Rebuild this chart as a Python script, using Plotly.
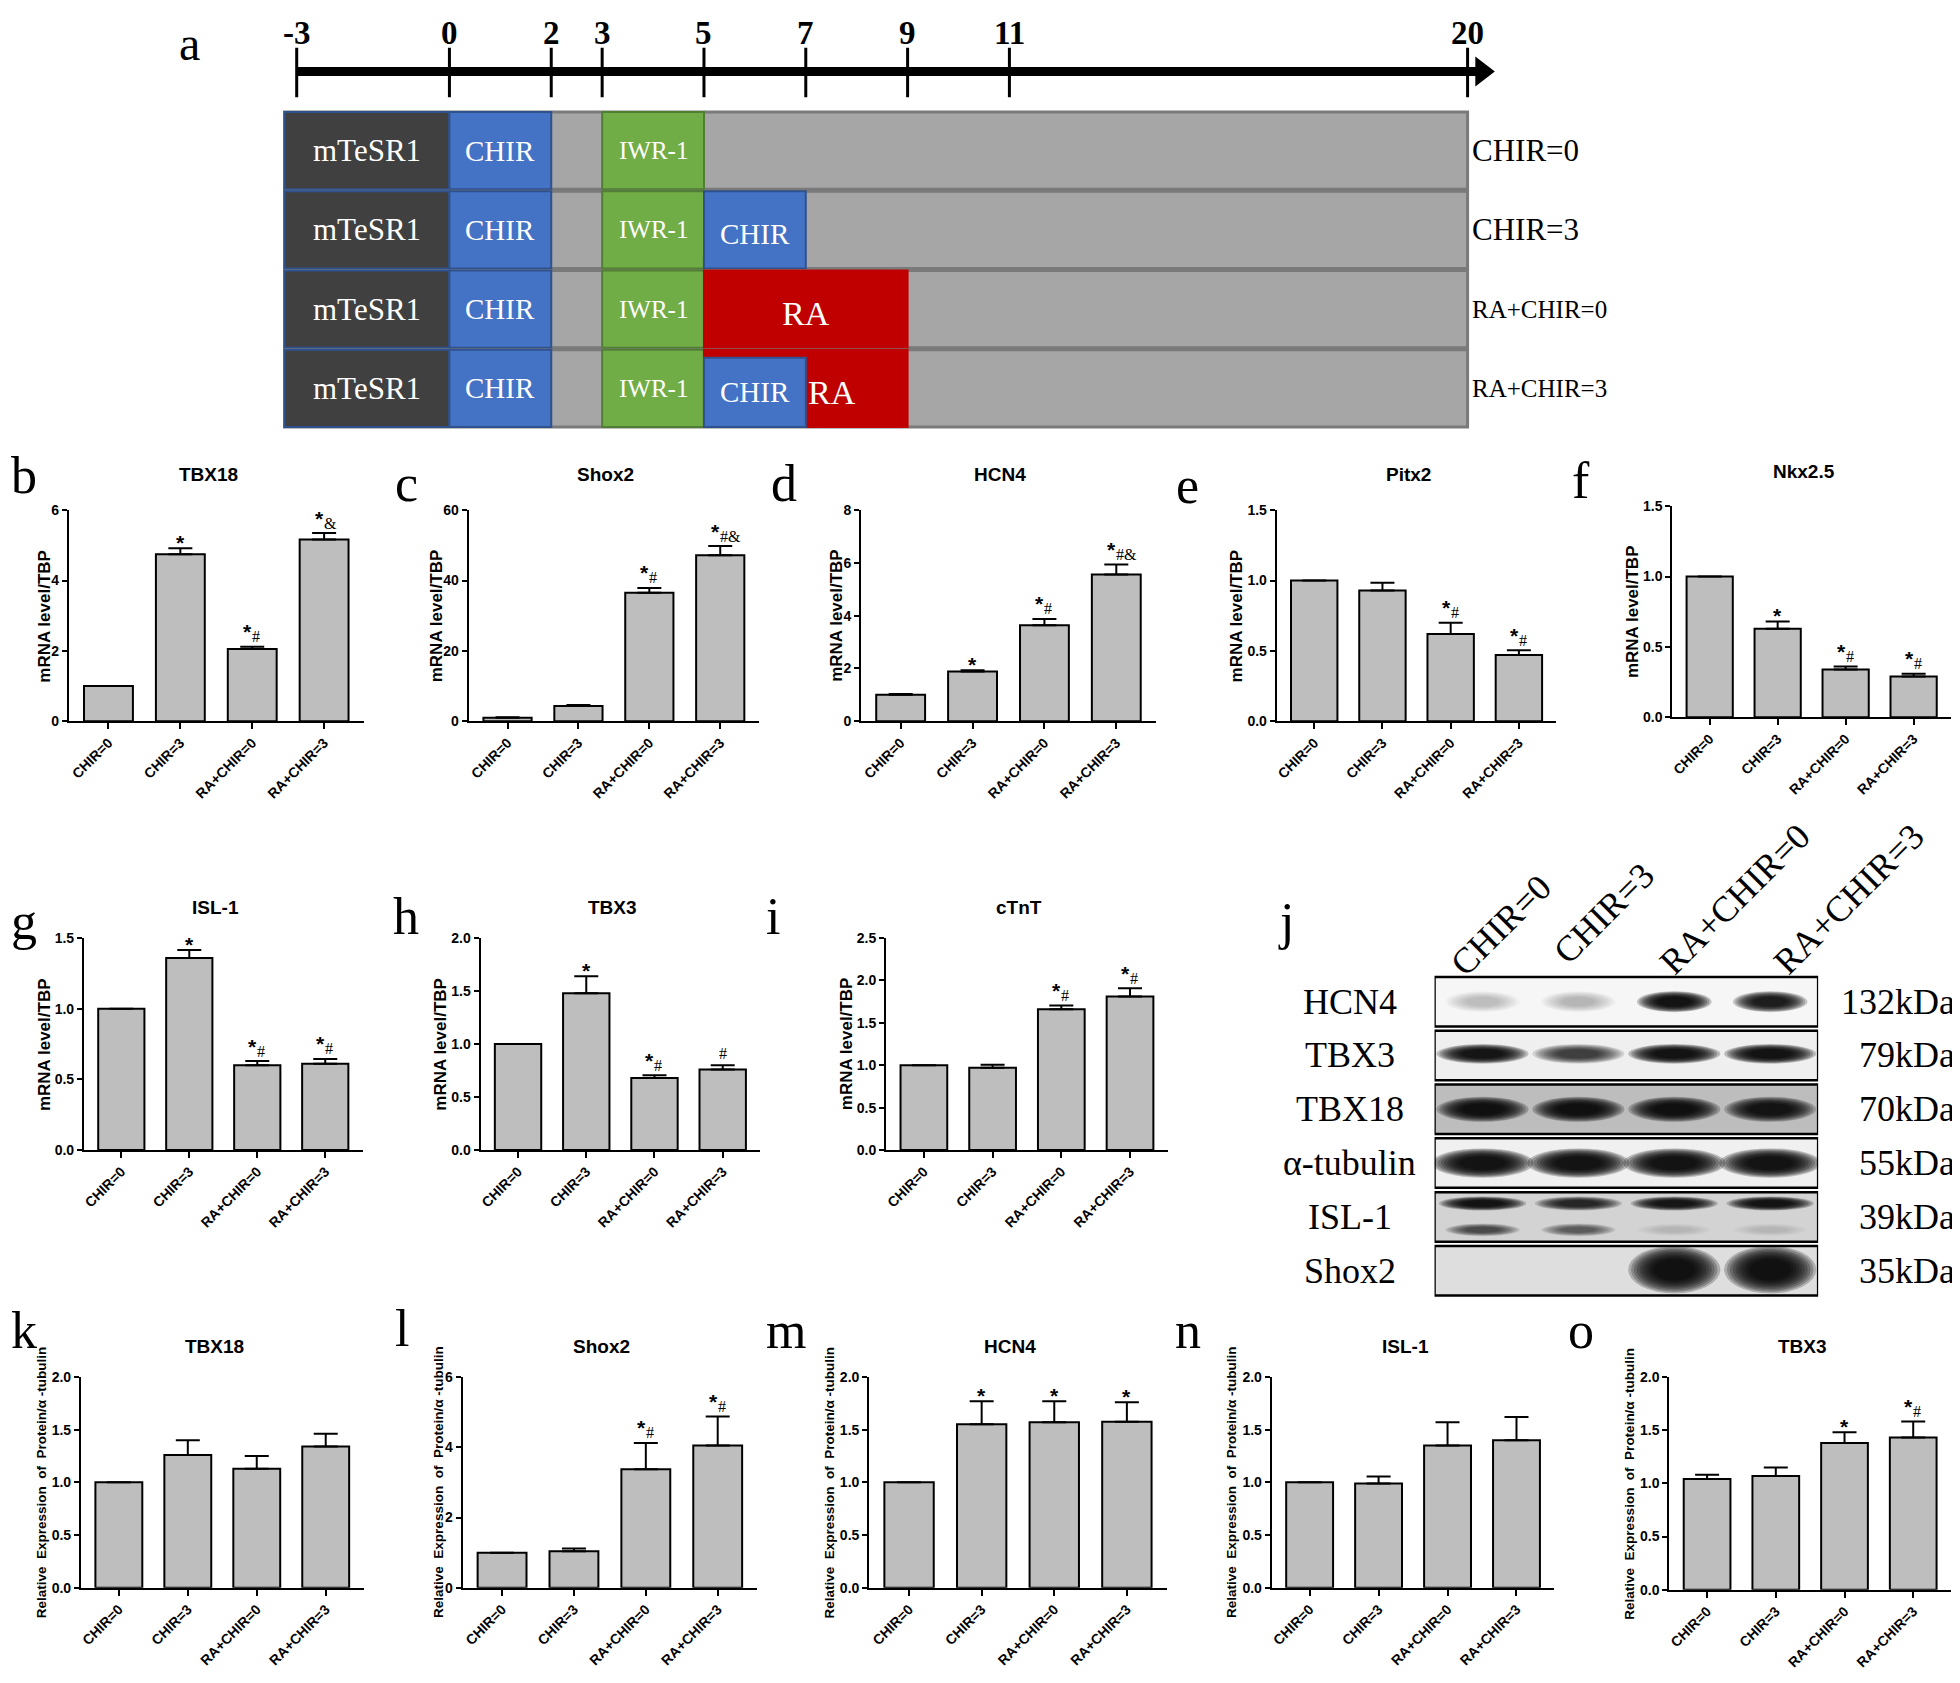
import plotly.graph_objects as go

W, H = 1960, 1683
OFF = 8  # default page margin around the plot div

groups = ["CHIR=0", "CHIR=3", "RA+CHIR=0", "RA+CHIR=3"]

# qPCR, mRNA level / TBP
tbx18_mrna = [1.0, 4.75, 2.05, 5.17]
tbx18_mrna_err = [0.0, 0.17, 0.07, 0.18]
tbx18_mrna_sig = ["", "*", "*#", "*&"]

shox2_mrna = [1.0, 4.3, 36.5, 47.2]
shox2_mrna_err = [0.1, 0.3, 1.4, 2.6]
shox2_mrna_sig = ["", "", "*#", "*#&"]

hcn4_mrna = [1.0, 1.88, 3.64, 5.56]
hcn4_mrna_err = [0.03, 0.05, 0.24, 0.38]
hcn4_mrna_sig = ["", "*", "*#", "*#&"]

pitx2_mrna = [1.0, 0.93, 0.62, 0.47]
pitx2_mrna_err = [0.0, 0.055, 0.08, 0.035]
pitx2_mrna_sig = ["", "", "*#", "*#"]

nkx25_mrna = [1.0, 0.63, 0.34, 0.29]
nkx25_mrna_err = [0.0, 0.05, 0.02, 0.02]
nkx25_mrna_sig = ["", "*", "*#", "*#"]

isl1_mrna = [1.0, 1.36, 0.60, 0.61]
isl1_mrna_err = [0.0, 0.055, 0.03, 0.035]
isl1_mrna_sig = ["", "*", "*#", "*#"]

tbx3_mrna = [1.0, 1.48, 0.68, 0.76]
tbx3_mrna_err = [0.0, 0.16, 0.025, 0.04]
tbx3_mrna_sig = ["", "*", "*#", "#"]

ctnt_mrna = [1.0, 0.97, 1.66, 1.81]
ctnt_mrna_err = [0.0, 0.035, 0.045, 0.10]
ctnt_mrna_sig = ["", "", "*#", "*#"]

# western blot quantification, protein / alpha-tubulin
tbx18_prot = [1.0, 1.26, 1.13, 1.34]
tbx18_prot_err = [0.0, 0.14, 0.12, 0.12]
tbx18_prot_sig = ["", "", "", ""]

shox2_prot = [1.0, 1.04, 3.37, 4.05]
shox2_prot_err = [0.0, 0.08, 0.75, 0.82]
shox2_prot_sig = ["", "", "*#", "*#"]

hcn4_prot = [1.0, 1.55, 1.57, 1.575]
hcn4_prot_err = [0.0, 0.22, 0.20, 0.185]
hcn4_prot_sig = ["", "*", "*", "*"]

isl1_prot = [1.0, 0.99, 1.35, 1.40]
isl1_prot_err = [0.0, 0.065, 0.22, 0.22]
isl1_prot_sig = ["", "", "", ""]

tbx3_prot = [1.04, 1.07, 1.38, 1.43]
tbx3_prot_err = [0.04, 0.08, 0.10, 0.15]
tbx3_prot_sig = ["", "", "*", "*#"]

# timeline (panel a)
timeline_days = [-3, 0, 2, 3, 5, 7, 9, 11, 20]
protocols = ["CHIR=0", "CHIR=3", "RA+CHIR=0", "RA+CHIR=3"]
common_steps = [("mTeSR1", -3.24, 0), ("CHIR", 0, 2), ("IWR-1", 3, 5)]
extra_steps = [[], [("CHIR", 5, 7)], [("RA", 5, 9)], [("RA", 5, 9), ("CHIR", 5, 7)]]

# western blot (panel j)
blot_proteins = ["HCN4", "TBX3", "TBX18", "α-tubulin", "ISL-1", "Shox2"]
blot_sizes = ["132kDa", "79kDa", "70kDa", "55kDa", "39kDa", "35kDa"]
blot_bands = [
    [0.10, 0.12, 1.00, 0.85],
    [0.95, 0.55, 1.00, 1.00],
    [0.95, 0.95, 0.95, 0.90],
    [1.00, 1.00, 1.00, 1.00],
    [0.95, 0.70, 0.90, 0.95],
    [0.03, 0.03, 1.00, 1.00],
]
isl1_lower_band = [0.45, 0.35, 0.05, 0.05]

# ---------------------------------------------------------------- styling
SANS = "Liberation Sans"
SERIF = "Liberation Serif"
BAR = "#bebebe"
MRNA_T = "mRNA level/TBP"
PROT_T = "Relative  Expression  of  Protein/α -tubulin"

# letter, title, values, errors, marks, ymax, dtick, ytitle,
# plot box (left, right, top, bottom px), letter centre px, title y px
panels = [
    ("b", "TBX18", tbx18_mrna, tbx18_mrna_err, tbx18_mrna_sig, 6, 2, MRNA_T, (67, 362, 507, 720), (22, 472), 471),
    ("c", "Shox2", shox2_mrna, shox2_mrna_err, shox2_mrna_sig, 60, 20, MRNA_T, (467, 758, 507, 720), (405, 480), 471),
    ("d", "HCN4", hcn4_mrna, hcn4_mrna_err, hcn4_mrna_sig, 8, 2, MRNA_T, (860, 1155, 507, 720), (783, 480), 471),
    ("e", "Pitx2", pitx2_mrna, pitx2_mrna_err, pitx2_mrna_sig, 1.5, 0.5, MRNA_T, (1276, 1556, 507, 720), (1187, 482), 471),
    ("f", "Nkx2.5", nkx25_mrna, nkx25_mrna_err, nkx25_mrna_sig, 1.5, 0.5, MRNA_T, (1672, 1951, 503, 716), (1581, 477), 468),
    ("g", "ISL-1", isl1_mrna, isl1_mrna_err, isl1_mrna_sig, 1.5, 0.5, MRNA_T, (82, 361, 939, 1153), (22, 922), 908),
    ("h", "TBX3", tbx3_mrna, tbx3_mrna_err, tbx3_mrna_sig, 2.0, 0.5, MRNA_T, (479, 759, 939, 1153), (404, 917), 908),
    ("i", "cTnT", ctnt_mrna, ctnt_mrna_err, ctnt_mrna_sig, 2.5, 0.5, MRNA_T, (885, 1167, 939, 1153), (772, 917), 908),
    ("k", "TBX18", tbx18_prot, tbx18_prot_err, tbx18_prot_sig, 2.0, 0.5, PROT_T, (79, 362, 1382, 1595), (22, 1335), 1351),
    ("l", "Shox2", shox2_prot, shox2_prot_err, shox2_prot_sig, 6, 2, PROT_T, (461, 756, 1382, 1595), (400, 1333), 1351),
    ("m", "HCN4", hcn4_prot, hcn4_prot_err, hcn4_prot_sig, 2.0, 0.5, PROT_T, (868, 1166, 1382, 1595), (785, 1335), 1351),
    ("n", "ISL-1", isl1_prot, isl1_prot_err, isl1_prot_sig, 2.0, 0.5, PROT_T, (1271, 1554, 1382, 1595), (1187, 1335), 1351),
    ("o", "TBX3", tbx3_prot, tbx3_prot_err, tbx3_prot_sig, 2.0, 0.5, PROT_T, (1669, 1951, 1382, 1597), (1581, 1335), 1351),
]

FW, FH = W - OFF, H - OFF


def xd(p):
    return (p - OFF) / FW


def yd(p):
    return 1 - (p - OFF) / FH


def ax_names(n):
    s = "" if n == 1 else str(n)
    return "x" + s, "y" + s, "xaxis" + s, "yaxis" + s


fig = go.Figure()
annotations = []
shapes = []
axes = {}


def ann(text, x, y, xref="paper", yref="paper", size=14, family=SANS, color="black", weight="normal", **kw):
    d = dict(text=text, x=x, y=y, xref=xref, yref=yref, showarrow=False,
             xanchor="center", yanchor="middle", borderpad=0,
             font=dict(family=family, size=size, color=color, weight=weight))
    d.update(kw)
    annotations.append(d)


for n, p in enumerate(panels, start=1):
    letter, title, vals, errs, sigs, ymax, dtick, ytitle, box, lpos, ty = p
    left, right, top, bottom = box
    xr, yr, xk, yk = ax_names(n)

    fig.add_trace(go.Bar(
        x=groups, y=vals, width=0.68,
        marker=dict(color=BAR, line=dict(color="black", width=2)),
        error_y=dict(type="data", array=errs, arrayminus=[0] * len(errs), symmetric=False,
                     color="black", thickness=2, width=12),
        xaxis=xr, yaxis=yr, showlegend=False, hoverinfo="skip"))

    axes[xk] = dict(domain=[xd(left), xd(right)], anchor=yr, range=[-0.55, 3.55],
                    showline=True, linecolor="black", linewidth=2, ticks="outside",
                    ticklen=6, tickwidth=2, tickcolor="black", tickangle=-45,
                    tickfont=dict(family=SANS, size=14, color="black", weight="bold"),
                    showgrid=False, zeroline=False, fixedrange=True)
    axes[yk] = dict(domain=[yd(bottom), yd(top)], anchor=xr, range=[0, ymax], dtick=dtick,
                    tickformat=".1f" if dtick < 1 else "d",
                    showline=True, linecolor="black", linewidth=2, ticks="outside",
                    ticklen=5, tickwidth=2, tickcolor="black",
                    tickfont=dict(family=SANS, size=14, color="black", weight="bold"),
                    showgrid=False, zeroline=False, fixedrange=True)

    # panel letter and title
    ann(letter, xd(lpos[0]), yd(lpos[1]), size=52, family=SERIF)
    ann(title, xd((left + right) / 2 - 8), yd(ty), size=19, weight="bold")

    # y title
    nch = len(f"{ymax:.1f}") if dtick < 1 else len(str(int(ymax)))
    off = 16 + 8 * nch
    ysize = 17 if ytitle == MRNA_T else 13.5
    ann(ytitle, xd(left - off), yd((top + bottom) / 2), size=ysize, weight="bold", textangle=-90)

    # significance marks
    for g, v, e, s in zip(groups, vals, errs, sigs):
        if not s:
            continue
        star = s.startswith("*")
        suffix = s[1:] if star else s
        if star:
            ann("*", g, v + e, xref=xr, yref=yr, size=21, weight="bold",
                xanchor="right" if suffix else "center",
                xshift=1 if suffix else 0, yshift=15 if suffix else 6)
        if suffix:
            ann(suffix, g, v + e, xref=xr, yref=yr, size=16, family=SERIF,
                xanchor="left" if star else "center",
                xshift=-1 if star else 0, yshift=10 if star else 12)

# ---------------------------------------------------------------- panel a
n = len(panels) + 1
xr, yr, xk, yk = ax_names(n)
PX_D0, PX_DAY = 295, 50.96  # pixel of day -3, pixels per day
axes[xk] = dict(domain=[xd(270), xd(1500)], anchor=yr, visible=False, fixedrange=True,
                range=[-3 - (PX_D0 - 270) / PX_DAY, -3 + (1500 - PX_D0) / PX_DAY])
axes[yk] = dict(domain=[yd(430), yd(OFF)], anchor=xr, visible=False, fixedrange=True, range=[430, OFF])

fig.add_trace(go.Scatter(x=[timeline_days[0], timeline_days[-1] + 0.2], y=[64, 64], mode="lines",
                         line=dict(color="black", width=9), xaxis=xr, yaxis=yr,
                         showlegend=False, hoverinfo="skip"))
fig.add_trace(go.Scatter(x=[timeline_days[-1] + 0.28], y=[64], mode="markers",
                         marker=dict(symbol="triangle-right", size=26, color="black"),
                         xaxis=xr, yaxis=yr, showlegend=False, hoverinfo="skip"))
for d in timeline_days:
    shapes.append(dict(type="line", xref=xr, yref=yr, x0=d, x1=d, y0=40, y1=90,
                       line=dict(color="black", width=3)))
    ann(str(d), d, 25, xref=xr, yref=yr, size=33, family=SERIF, weight="bold")

step_fill = {"mTeSR1": "#404040", "CHIR": "#4472c4", "IWR-1": "#70ad47", "RA": "#c00000"}
step_line = {"mTeSR1": "#2f528f", "CHIR": "#2f528f", "IWR-1": "#507e32", "RA": "#c00000"}
step_size = {"mTeSR1": 31, "CHIR": 29, "IWR-1": 25, "RA": 34}
for i, proto in enumerate(protocols):
    y0 = 105 + 80 * i
    y1 = y0 + 78
    shapes.append(dict(type="rect", xref=xr, yref=yr, x0=common_steps[0][1], x1=timeline_days[-1],
                       y0=y0, y1=y1, fillcolor="#a6a6a6", line=dict(color="#7a7a7a", width=3)))
    steps = common_steps + extra_steps[i]
    for k, (name, s0, s1) in enumerate(steps):
        inset = 8 if k >= 4 else 0
        shapes.append(dict(type="rect", xref=xr, yref=yr, x0=s0, x1=s1, y0=y0 + inset, y1=y1,
                           fillcolor=step_fill[name], line=dict(color=step_line[name], width=2)))
    for k, (name, s0, s1) in enumerate(steps):
        xpos, anchor = (s0 + s1) / 2, "center"
        if name == "RA" and len(steps) > 4:
            # RA label sits beside the overlapping CHIR box
            xpos, anchor = steps[4][2] + 0.02, "left"
        ann(name, xpos, (y0 + y1) / 2 + (4 if k >= 3 else 0), xref=xr, yref=yr,
            size=step_size[name], family=SERIF, color="white", xanchor=anchor)
    ann(proto, xd(1470), (y0 + y1) / 2, yref=yr, size=31 if len(proto) < 7 else 25,
        family=SERIF, xanchor="left")

ann("a", xd(188), yd(OFF), size=48, family=SERIF, yanchor="top")

# ---------------------------------------------------------------- panel j
n += 1
xr, yr, xk, yk = ax_names(n)
axes[xk] = dict(domain=[xd(1434), xd(1818)], anchor=yr, visible=False, fixedrange=True, range=[0.5, 4.5])
axes[yk] = dict(domain=[yd(1302), yd(976)], anchor=xr, visible=False, fixedrange=True, range=[5.5, -0.5])

blot_bg = ["#f6f6f6", "#efefef", "#bdbdbd", "#f0f0f0", "#d3d3d3", "#dedede"]
band_hw = [0.30, 0.37, 0.37, 0.41, 0.35, 0.37]
band_hh = [0.15, 0.14, 0.18, 0.21, 0.10, 0.34]
band_dy = [0.0, -0.03, 0.0, 0.0, -0.25, -0.02]
# soft edge: many faint stacked ellipses shrinking toward the band core
layers = [(1.3 - 0.08 * k, 0.22) for k in range(10)]


def band(lane, row, hw, hh, dy, level):
    for scale, alpha in layers:
        op = alpha * level
        if op < 0.01:
            continue
        shapes.append(dict(type="circle", xref=xr, yref=yr, x0=lane - hw * scale, x1=lane + hw * scale,
                           y0=row + dy - hh * scale, y1=row + dy + hh * scale,
                           fillcolor="black", opacity=op, line=dict(width=0)))


for r, prot in enumerate(blot_proteins):
    shapes.append(dict(type="rect", xref=xr, yref=yr, x0=0.5, x1=4.5, y0=r - 0.46, y1=r + 0.46,
                       fillcolor=blot_bg[r], line=dict(color="black", width=2.5)))
    for lane, level in enumerate(blot_bands[r], start=1):
        band(lane, r, band_hw[r], band_hh[r], band_dy[r], level)
    if prot == "ISL-1":
        for lane, level in enumerate(isl1_lower_band, start=1):
            band(lane, r, 0.3, 0.09, 0.24, level)
    ann(prot, xd(1349), r, yref=yr, size=36, family=SERIF)
    ann(blot_sizes[r], xd(1956), r, yref=yr, size=36, family=SERIF, xanchor="right")

lane_label_pos = [(1501, 926), (1604, 914), (1735, 900), (1849, 900)]
for g, (px, py) in zip(groups, lane_label_pos):
    ann(g, xd(px), yd(py), size=36, family=SERIF, textangle=-45)
ann("j", xd(1285), yd(922), size=52, family=SERIF)

fig.update_layout(
    width=FW, height=FH,
    margin=dict(l=0, r=0, t=0, b=0),
    paper_bgcolor="white", plot_bgcolor="rgba(0,0,0,0)",
    bargap=0.32,
    annotations=annotations,
    shapes=shapes,
    **axes,
)

fig.write_html("out.html")
